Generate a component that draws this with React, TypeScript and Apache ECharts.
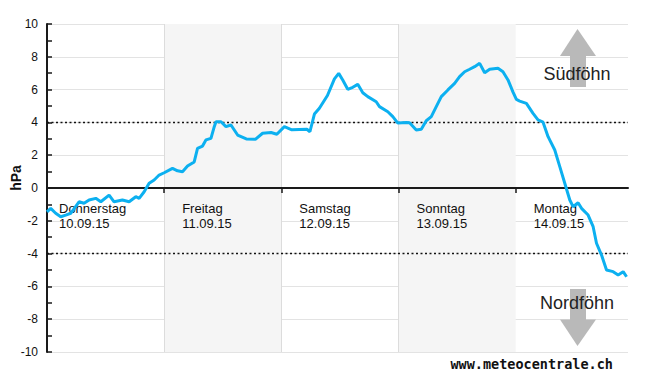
import React, { useEffect, useRef } from "react";
import * as echarts from "echarts";

// hours since Thursday 10.09.15 00:00
const hours = [
  0, 0.76, 1.78, 2.81, 3.84, 4.86, 6.56, 7.59, 8.62, 9.99, 11.02, 12.72, 13.74, 15.45, 16.82, 18.19, 18.87, 19.9, 20.92, 21.95,
  22.97, 24.0, 25.7, 26.73, 27.75, 28.78, 30.15, 30.83, 31.86, 32.55, 33.58, 34.26, 34.61, 35.63, 36.66, 37.68, 39.04, 40.82, 42.67, 44.16,
  45.89, 47.08, 48.62, 50.15, 53.23, 53.85, 54.77, 55.79, 57.44, 58.87, 59.75, 60.57, 61.6, 62.63, 63.65, 64.68, 65.7, 67.43, 68.1, 69.81,
  70.83, 71.86, 73.58, 74.26, 75.63, 76.66, 77.68, 78.71, 79.73, 80.76, 82.11, 83.49, 84.51, 85.54, 86.56, 87.59, 88.62, 89.64, 90.67, 92.37,
  93.39, 94.42, 95.45, 96.14, 96.82, 98.19, 99.55, 100.57, 101.6, 102.63, 104.0, 105.03, 106.05, 107.08, 107.75, 108.78, 109.48, 110.83, 111.86, 112.55,
  113.58, 114.6, 115.96, 116.98, 118.01, 118.71,
];
// pressure difference in hPa
const pressure = [
  -1.45, -1.24, -1.54, -1.75, -1.65, -1.54, -0.84, -0.93, -0.73, -0.63, -0.84, -0.43, -0.84, -0.73, -0.84, -0.53, -0.63, -0.23, 0.29, 0.49,
  0.79, 0.93, 1.2, 1.05, 0.99, 1.34, 1.59, 2.42, 2.56, 2.93, 3.03, 3.74, 4.04, 4.04, 3.74, 3.84, 3.23, 2.99, 2.97, 3.34,
  3.38, 3.28, 3.74, 3.55, 3.58, 3.43, 4.51, 4.86, 5.64, 6.65, 6.99, 6.59, 6.02, 6.14, 6.32, 5.81, 5.57, 5.26, 4.96, 4.65,
  4.35, 3.96, 3.99, 3.98, 3.54, 3.58, 4.1, 4.35, 4.96, 5.57, 5.98, 6.38, 6.79, 7.09, 7.24, 7.4, 7.6, 7.03, 7.24, 7.3,
  7.09, 6.59, 5.85, 5.4, 5.3, 5.16, 4.55, 4.15, 4.01, 3.13, 2.32, 1.3, 0.29, -0.73, -1.14, -0.9, -1.24, -1.65, -2.36, -3.37,
  -4.09, -5.0, -5.1, -5.3, -5.1, -5.41,
];

const dayStarts = [0, 24, 48, 72, 96];
const dayNames = ["Donnerstag", "Freitag", "Samstag", "Sonntag", "Montag"];
const dayDates = ["10.09.15", "11.09.15", "12.09.15", "13.09.15", "14.09.15"];
const thresholds = [4, -4];
const yMin = -10;
const yMax = 10;
const yStep = 2;
const xMax = 119;

export default function App() {
  const ref = useRef<HTMLDivElement>(null);

  useEffect(() => {
    if (!ref.current) return;
    const chart = echarts.init(ref.current, null, { renderer: "svg" });
    const data = hours.map((h, i) => [h, pressure[i]]);
    const font = "Liberation Sans, Arial, sans-serif";
    const arrowColor = "#b9b9b9";
    const gridTop = 24;
    const gridBottom = 23;
    const plotH = 375 - gridTop - gridBottom;
    // move the x axis (line, ticks, labels) up to the zero line
    const zeroOffset = -plotH * ((0 - yMin) / (yMax - yMin));

    chart.setOption({
      animation: false,
      backgroundColor: "#ffffff",
      grid: {
        left: 47,
        right: 22,
        top: gridTop,
        bottom: gridBottom,
        containLabel: false,
        outerBoundsMode: "none",
      },
      xAxis: {
        type: "value",
        min: 0,
        max: xMax,
        interval: 24,
        position: "bottom",
        offset: zeroOffset,
        axisLine: { show: true, onZero: false, lineStyle: { color: "#1a1a1a", width: 2 } },
        axisTick: {
          show: true,
          inside: false,
          length: 5,
          customValues: dayStarts,
          lineStyle: { color: "#1a1a1a", width: 1.5 },
        },
        axisLabel: {
          show: true,
          customValues: dayStarts,
          margin: 13,
          align: "left",
          fontFamily: font,
          fontSize: 13,
          color: "#111",
          lineHeight: 15,
          formatter: (v: number) => {
            const i = dayStarts.indexOf(v);
            if (i < 0) return "";
            const s = i === 0 ? "f" : "d";
            return `{${s}|${dayNames[i]}}\n{${s}|${dayDates[i]}}`;
          },
          rich: {
            f: { padding: [0, 0, 0, 12], fontSize: 13, fontFamily: font, color: "#111", lineHeight: 15 },
            d: { padding: [0, 0, 0, 18], fontSize: 13, fontFamily: font, color: "#111", lineHeight: 15 },
          },
        },
        splitLine: { show: true, showMaxLine: false, lineStyle: { color: "#dcdcdc", width: 1 } },
        splitArea: { show: true, areaStyle: { color: ["rgba(255,255,255,0)", "#f5f5f5"] } },
      },
      yAxis: {
        type: "value",
        min: yMin,
        max: yMax,
        interval: yStep,
        axisLine: { show: true, onZero: false, lineStyle: { color: "#1a1a1a", width: 2 } },
        axisTick: { show: true, inside: true, length: 5, lineStyle: { color: "#1a1a1a", width: 1.5 } },
        minorTick: { show: true, splitNumber: 2, length: 5, lineStyle: { color: "#1a1a1a", width: 1.5 } },
        axisLabel: { margin: 9, fontFamily: font, fontSize: 12, color: "#111" },
        splitLine: { show: true, lineStyle: { color: "#e3e3e3", width: 1 } },
      },
      series: [
        {
          type: "line",
          data,
          showSymbol: false,
          symbol: "none",
          lineStyle: { color: "#0cb0f0", width: 3 },
          z: 5,
          markLine: {
            silent: true,
            symbol: ["none", "none"],
            label: { show: false },
            lineStyle: { color: "#111", type: [2, 2.5], width: 1.3 },
            data: thresholds.map((t) => ({ yAxis: t })),
            z: 3,
          },
        },
      ],
      graphic: [
        {
          type: "text",
          x: 16,
          y: 178,
          rotation: Math.PI / 2,
          style: {
            text: "hPa",
            fontFamily: font,
            fontWeight: "bold",
            fontSize: 14,
            fill: "#111",
            align: "center",
            verticalAlign: "middle",
          },
        },
        // Südföhn arrow
        {
          type: "polygon",
          shape: { points: [[577.5, 29], [560, 56], [596, 56]] },
          style: { fill: arrowColor },
          z: 10,
        },
        {
          type: "rect",
          shape: { x: 570, y: 56, width: 16, height: 31 },
          style: { fill: arrowColor },
          z: 10,
        },
        {
          type: "text",
          x: 577,
          y: 73.5,
          style: {
            text: "Südföhn",
            fontFamily: font,
            fontSize: 18,
            fill: "#222",
            align: "center",
            verticalAlign: "middle",
          },
          z: 11,
        },
        // Nordföhn arrow
        {
          type: "rect",
          shape: { x: 570, y: 289, width: 16, height: 31 },
          style: { fill: arrowColor },
          z: 10,
        },
        {
          type: "polygon",
          shape: { points: [[560, 319.5], [596, 319.5], [577.5, 346]] },
          style: { fill: arrowColor },
          z: 10,
        },
        {
          type: "text",
          x: 577,
          y: 303,
          style: {
            text: "Nordföhn",
            fontFamily: font,
            fontSize: 18,
            fill: "#222",
            align: "center",
            verticalAlign: "middle",
          },
          z: 11,
        },
        {
          type: "text",
          x: 613,
          y: 363.5,
          style: {
            text: "www.meteocentrale.ch",
            fontFamily: "DejaVu Sans Mono, monospace",
            fontWeight: "bold",
            fontSize: 13.5,
            fill: "#111",
            align: "right",
            verticalAlign: "middle",
          },
          z: 11,
        },
      ],
    });

    return () => chart.dispose();
  }, []);

  return (
    <div
      ref={ref}
      style={{ position: "absolute", left: 0, top: 0, width: 650, height: 375, background: "#fff" }}
    />
  );
}
